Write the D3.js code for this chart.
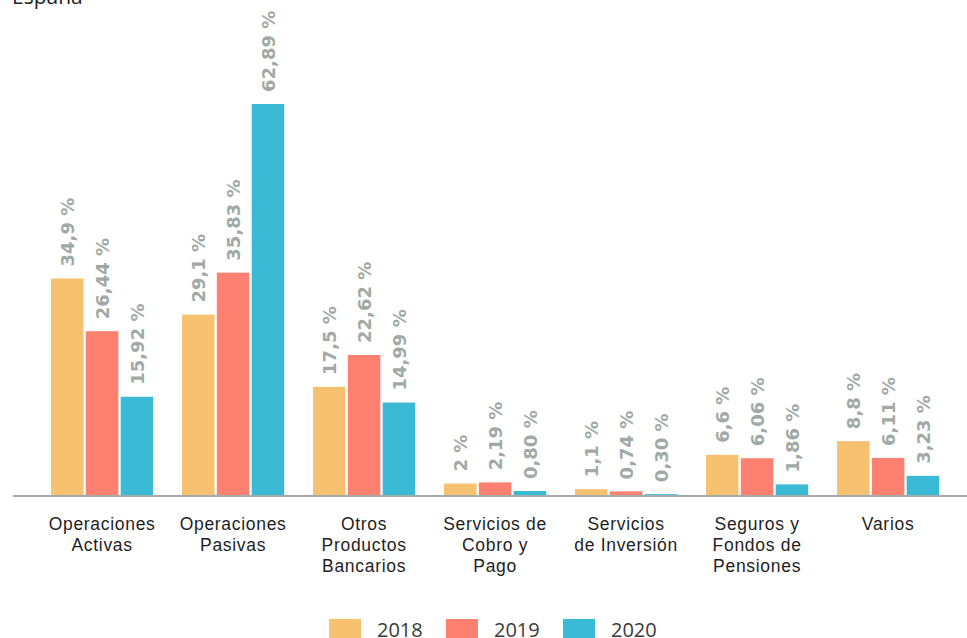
<!DOCTYPE html>
<html>
<head>
<meta charset="utf-8">
<script src="https://cdn.jsdelivr.net/npm/d3@7"></script>
<style>
  html, body { margin: 0; padding: 0; background: #fff; }
  svg { display: block; font-family: "Open Sans", "Noto Sans", sans-serif; }
</style>
</head>
<body>
<svg id="chart" width="967" height="638"></svg>
<script>
// Categories (multi-line labels) and yearly shares per category
const categories = [
  ["Operaciones", "Activas"],
  ["Operaciones", "Pasivas"],
  ["Otros", "Productos", "Bancarios"],
  ["Servicios de", "Cobro y", "Pago"],
  ["Servicios", "de Inversión"],
  ["Seguros y", "Fondos de", "Pensiones"],
  ["Varios"]
];
const years = ["2018", "2019", "2020"];
const values2018 = [34.9, 29.1, 17.5, 2, 1.1, 6.6, 8.8];
const values2019 = [26.44, 35.83, 22.62, 2.19, 0.74, 6.06, 6.11];
const values2020 = [15.92, 62.89, 14.99, 0.80, 0.30, 1.86, 3.23];
const labels2018 = ["34,9 %", "29,1 %", "17,5 %", "2 %", "1,1 %", "6,6 %", "8,8 %"];
const labels2019 = ["26,44 %", "35,83 %", "22,62 %", "2,19 %", "0,74 %", "6,06 %", "6,11 %"];
const labels2020 = ["15,92 %", "62,89 %", "14,99 %", "0,80 %", "0,30 %", "1,86 %", "3,23 %"];
const colors = ["#f6c171", "#fd8070", "#3bbad5"];

const series = [values2018, values2019, values2020];
const seriesLabels = [labels2018, labels2019, labels2020];

const svg = d3.select("#chart");
const baseY = 496;

const x0 = d3.scaleBand()
  .domain(d3.range(categories.length))
  .range([36.6, 953.6])
  .paddingInner(0.22)
  .paddingOuter(0.11);

const x1 = d3.scaleBand()
  .domain(years)
  .range([0, x0.bandwidth()])
  .paddingInner(0.067);

const y = d3.scaleLinear().domain([0, 62.89]).range([baseY, 104]);

// Title
svg.append("text")
  .attr("x", 12).attr("y", 4)
  .attr("font-size", 21).attr("fill", "#222")
  .text("España");

// Bars and rotated value labels
const groups = svg.append("g").selectAll("g")
  .data(categories)
  .join("g")
  .attr("transform", (d, i) => `translate(${x0(i)},0)`);

groups.each(function(cat, i) {
  const g = d3.select(this);
  years.forEach((yr, s) => {
    const v = series[s][i];
    g.append("rect")
      .attr("x", x1(yr))
      .attr("y", y(v))
      .attr("width", x1.bandwidth())
      .attr("height", baseY - y(v))
      .attr("fill", colors[s]);
    const cx = x1(yr) + x1.bandwidth() / 2;
    g.append("text")
      .attr("transform", `translate(${cx + 7},${y(v) - 12}) rotate(-90)`)
      .attr("font-family", "'DejaVu Sans', sans-serif")
      .attr("font-size", 18)
      .attr("font-weight", 700)
      .attr("fill", "#a0aaa5")
      .text(seriesLabels[s][i]);
  });
});

// Baseline axis
const xAxis = d3.axisBottom(x0).tickSize(0).tickFormat("");
const axisG = svg.append("g").attr("transform", `translate(0,${baseY})`).call(xAxis);
axisG.select(".domain").remove();
axisG.append("line")
  .attr("x1", 13).attr("x2", 967)
  .attr("stroke", "#a3ada9").attr("stroke-width", 2);

// Category labels
axisG.selectAll(".tick").each(function(d) {
  const t = d3.select(this).append("text")
    .attr("text-anchor", "middle")
    .attr("font-size", 17.5)
    .attr("letter-spacing", 0.7)
    .attr("fill", "#1e1e1e");
  categories[d].forEach((line, k) => {
    t.append("tspan").attr("x", 0).attr("y", 34 + k * 21).text(line);
  });
});

// Legend
const legend = svg.append("g").selectAll("g")
  .data(years)
  .join("g")
  .attr("transform", (d, i) => `translate(${329 + i * 117},619)`);
legend.append("rect")
  .attr("width", 32).attr("height", 20)
  .attr("fill", (d, i) => colors[i]);
legend.append("text")
  .attr("x", 48).attr("y", 18)
  .attr("font-size", 20)
  .attr("fill", "#3a3a3a")
  .text(d => d);
</script>
</body>
</html>
